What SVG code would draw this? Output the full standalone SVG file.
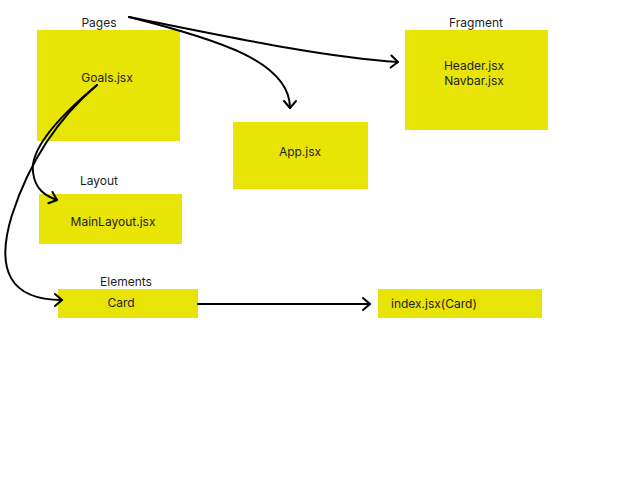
<svg xmlns="http://www.w3.org/2000/svg" width="622" height="485" viewBox="0 0 622 485">
<style>
.box{fill:#E8E406}
text{font-family:Inter,"Liberation Sans",sans-serif;font-size:12px;fill:#1e1e1e}
.c{fill:none;stroke:#000;stroke-width:2;stroke-linecap:round}
</style>
<defs>
<marker id="ah" markerUnits="userSpaceOnUse" markerWidth="20" markerHeight="20" viewBox="-10 -10 20 20" refX="0" refY="0" orient="auto">
<path d="M-7,-6 L0,0 L-7,6" fill="none" stroke="#000" stroke-width="2" stroke-linecap="round" stroke-linejoin="round"/>
</marker>
</defs>
<rect width="622" height="485" fill="#fff"/>
<g id="pages">
<text x="99" y="27" text-anchor="middle">Pages</text>
<rect class="box" x="37" y="30" width="143" height="111"/>
<text x="107" y="82" text-anchor="middle">Goals.jsx</text>
</g>
<g id="fragment">
<text x="476" y="27" text-anchor="middle">Fragment</text>
<rect class="box" x="405" y="30" width="143" height="100"/>
<text x="474" y="70" text-anchor="middle">Header.jsx</text>
<text x="474" y="85" text-anchor="middle">Navbar.jsx</text>
</g>
<g id="app">
<rect class="box" x="233" y="122" width="135" height="67"/>
<text x="300" y="156" text-anchor="middle">App.jsx</text>
</g>
<g id="layout">
<text x="99" y="185" text-anchor="middle">Layout</text>
<rect class="box" x="39" y="194" width="143" height="50"/>
<text x="113" y="226" text-anchor="middle">MainLayout.jsx</text>
</g>
<g id="elements">
<text x="126" y="286" text-anchor="middle">Elements</text>
<rect class="box" x="58" y="289" width="140" height="29"/>
<text x="121" y="307" text-anchor="middle">Card</text>
</g>
<g id="index">
<rect class="box" x="378" y="289" width="164" height="29"/>
<text x="391" y="308">index.jsx(Card)</text>
</g>
<g id="connectors">
<path class="c" d="M129,17 C220,35 320,57 398,62" marker-end="url(#ah)"/>
<path class="c" d="M129,17 C220,40 290,62 290,108" marker-end="url(#ah)"/>
<path class="c" d="M97,85 C55,120 30,150 33,172 C35,190 46,196 57,200" marker-end="url(#ah)"/>
<path class="c" d="M97,85 C50,125 25,175 12,215 C-5,270 10,300 62,300" marker-end="url(#ah)"/>
<path class="c" d="M198,304 L370,304" marker-end="url(#ah)"/>
</g>
</svg>
